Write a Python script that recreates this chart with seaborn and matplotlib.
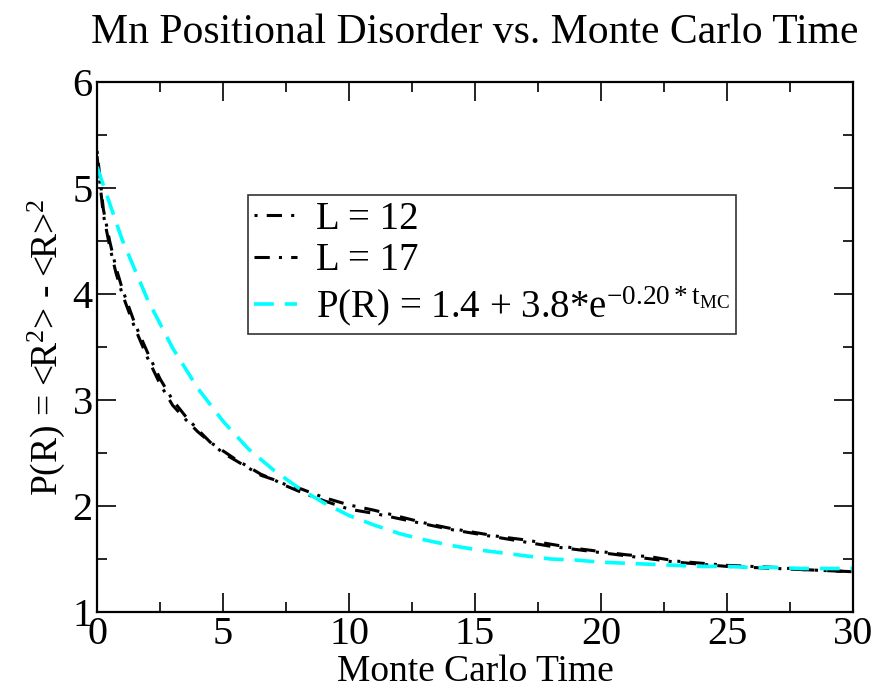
import numpy as np
import pandas as pd
import matplotlib
matplotlib.use("Agg")
import matplotlib.pyplot as plt
import seaborn as sns

# valores
t_sim = [0, 0.25, 0.5, 0.75, 1, 1.5, 2, 2.5, 3, 3.5, 4, 4.5, 5, 5.5, 6, 6.5, 7, 7.5, 8,
         9, 10, 11, 12, 13, 14, 15, 16, 17, 18, 19, 20, 21, 22, 23, 24, 25, 26, 27, 28, 29, 30]
p_L12 = [5.35, 4.80, 4.50, 4.25, 4.05, 3.72, 3.45, 3.20, 3.00, 2.85, 2.72, 2.60, 2.50, 2.43,
         2.36, 2.29, 2.25, 2.20, 2.17, 2.08, 2.01, 1.96, 1.90, 1.84, 1.79, 1.75, 1.71, 1.68,
         1.64, 1.60, 1.57, 1.54, 1.52, 1.48, 1.46, 1.44, 1.43, 1.42, 1.40, 1.39, 1.38]
p_L17 = [5.30, 4.75, 4.45, 4.20, 4.00, 3.68, 3.40, 3.15, 2.95, 2.82, 2.70, 2.60, 2.52, 2.44,
         2.37, 2.30, 2.25, 2.19, 2.14, 2.05, 1.97, 1.93, 1.88, 1.83, 1.78, 1.74, 1.70, 1.66,
         1.62, 1.59, 1.56, 1.53, 1.50, 1.47, 1.45, 1.43, 1.42, 1.41, 1.40, 1.39, 1.38]
t_fit = [0, 1, 2, 3, 4, 5, 6, 7, 8, 9, 10, 11, 12, 13, 14, 15, 16, 17, 18, 19, 20,
         21, 22, 23, 24, 25, 26, 27, 28, 29, 30]
p_fit = [5.20, 4.51, 3.95, 3.49, 3.11, 2.80, 2.54, 2.34, 2.17, 2.03, 1.91, 1.82, 1.74, 1.68,
         1.63, 1.59, 1.56, 1.53, 1.50, 1.49, 1.47, 1.46, 1.45, 1.44, 1.43, 1.43, 1.42, 1.42,
         1.41, 1.41, 1.41]

sns.set_style("ticks")
plt.rcParams.update({
    "font.family": ["Liberation Serif", "DejaVu Serif"],
    "mathtext.fontset": "custom",
    "mathtext.rm": "Liberation Serif",
    "mathtext.it": "Liberation Serif",
    "mathtext.default": "regular",
    "axes.linewidth": 1.6,
    "axes.edgecolor": "black",
    "text.color": "black",
    "axes.labelcolor": "black",
    "xtick.color": "black",
    "ytick.color": "black",
})

fig = plt.figure(figsize=(8.79, 6.92), dpi=100)
ax = fig.add_axes([0.1104, 0.1156, 0.86, 0.7659])

sns.lineplot(x=t_sim, y=p_L12, ax=ax, color="black", lw=2.2, label="L = 12")
ax.lines[-1].set_linestyle((0, (1, 3, 5, 3)))
sns.lineplot(x=t_sim, y=p_L17, ax=ax, color="black", lw=2.2, label="L = 17")
ax.lines[-1].set_linestyle((0, (5, 3, 1, 3)))
sns.lineplot(x=t_fit, y=p_fit, ax=ax, color="cyan", lw=2.6,
             label=r"P(R) = 1.4 + 3.8*e$^{-0.20*t_{MC}}$")
ax.lines[-1].set_linestyle((0, (5.5, 3)))

ax.set_xlim(0, 30)
ax.set_ylim(1, 6)
ax.set_xticks(np.arange(0, 31, 5))
ax.set_xticks(np.arange(0, 30.1, 2.5), minor=True)
ax.set_yticks(np.arange(1, 7, 1))
ax.set_yticks(np.arange(1, 6.01, 0.5), minor=True)
ax.tick_params(which="both", direction="in", top=True, right=True, width=1.2)
ax.tick_params(which="major", length=14, labelsize=29, pad=3)
ax.tick_params(which="minor", length=7)

ax.set_xlabel("Monte Carlo Time", fontsize=27, labelpad=1)
ax.set_ylabel(r"P(R) = <R$^2$> - <R>$^2$", fontsize=27, labelpad=4)
ax.set_title("Mn Positional Disorder vs. Monte Carlo Time", fontsize=30, pad=28)

leg = ax.legend(loc="upper left", bbox_to_anchor=(0.2, 0.787), borderaxespad=0,
                fontsize=28, frameon=True, fancybox=False, handlelength=1.1,
                handletextpad=0.5, labelspacing=0.12, borderpad=0.15)
leg.get_frame().set_edgecolor("black")
leg.get_frame().set_linewidth(1.2)

plt.savefig("out.png", dpi=100)
